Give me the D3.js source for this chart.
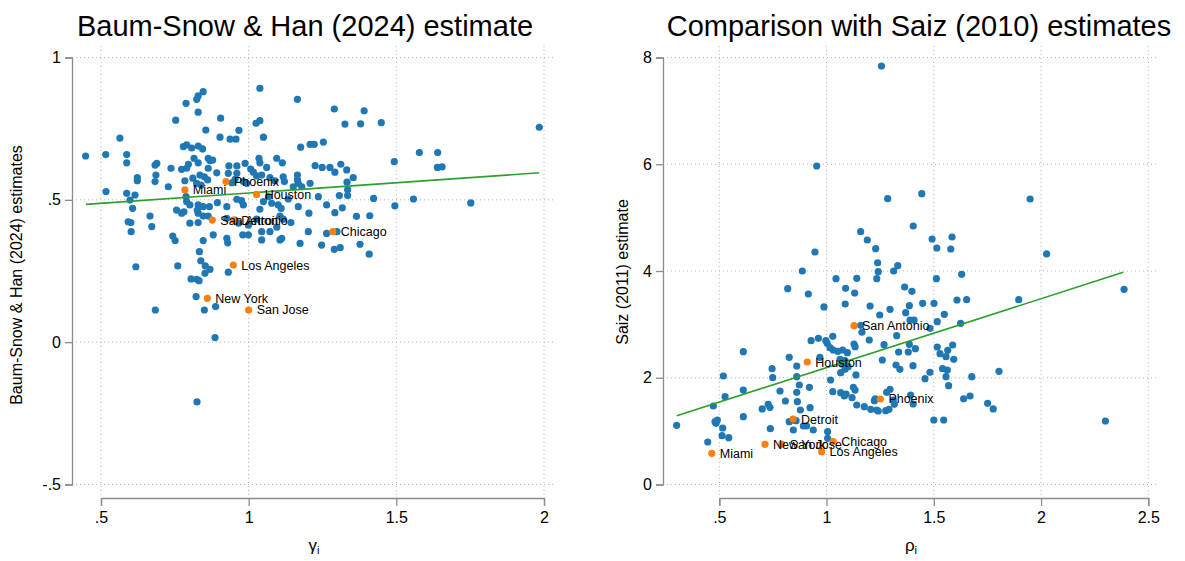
<!DOCTYPE html>
<html>
<head>
<meta charset="utf-8">
<script src="https://cdn.jsdelivr.net/npm/d3@7"></script>
<style>
  html, body { margin: 0; padding: 0; background: #fff; }
  svg { display: block; font-family: "Liberation Sans", Arial, Helvetica, sans-serif; }
</style>
</head>
<body>
<svg id="chart" width="1185" height="561"></svg>
<script>
// ---- Panel 1: gamma_i vs Baum-Snow & Han (2024) estimates ----
const bshOther = [
  [1.038,0.892],[0.846,0.880],[0.829,0.865],[0.824,0.853],[0.788,0.839],[1.165,0.853],[1.290,0.819],[0.829,0.808],
  [0.753,0.780],[0.905,0.787],[1.038,0.778],[1.025,0.769],[1.326,0.766],[0.855,0.745],[0.967,0.744],[0.564,0.717],
  [0.903,0.720],[0.937,0.713],[0.957,0.713],[1.050,0.720],[1.253,0.703],[1.208,0.695],[1.222,0.695],[1.176,0.685],
  [0.779,0.687],[0.790,0.693],[0.807,0.682],[0.829,0.689],[0.844,0.679],[0.448,0.654],[0.516,0.659],[0.587,0.659],
  [0.587,0.630],[0.689,0.628],[0.683,0.622],[0.815,0.646],[0.863,0.646],[0.869,0.638],[0.878,0.640],[0.796,0.625],
  [0.790,0.611],[0.773,0.607],[0.737,0.611],[0.829,0.630],[0.863,0.611],[0.933,0.619],[0.960,0.619],[0.988,0.628],
  [1.035,0.646],[1.038,0.630],[1.095,0.646],[1.114,0.630],[1.061,0.614],[1.007,0.608],[1.016,0.597],[0.931,0.593],
  [0.960,0.593],[0.892,0.595],[0.835,0.587],[0.850,0.581],[0.861,0.570],[0.811,0.576],[0.784,0.567],[0.686,0.587],
  [0.683,0.564],[0.623,0.578],[0.623,0.567],[0.728,0.546],[0.824,0.558],[0.839,0.552],[0.954,0.572],[0.943,0.560],
  [0.982,0.564],[0.993,0.558],[1.027,0.584],[1.044,0.587],[1.072,0.578],[1.089,0.567],[1.117,0.581],[1.121,0.564],
  [1.165,0.587],[1.165,0.570],[1.168,0.558],[1.225,0.620],[1.249,0.614],[1.275,0.614],[1.292,0.597],[1.332,0.605],
  [1.208,0.558],[1.151,0.546],[1.180,0.546],[0.517,0.529],[0.587,0.523],[0.615,0.517],[0.598,0.499],[0.607,0.470],
  [0.788,0.511],[0.790,0.494],[0.829,0.482],[0.846,0.476],[0.867,0.476],[0.826,0.464],[0.829,0.453],[0.801,0.482],
  [0.756,0.464],[0.773,0.453],[0.781,0.458],[0.894,0.490],[0.926,0.476],[0.960,0.502],[0.976,0.497],[0.982,0.482],
  [1.038,0.467],[1.050,0.494],[1.067,0.511],[1.078,0.488],[1.100,0.482],[1.134,0.503],[1.110,0.470],[1.168,0.476],
  [1.204,0.453],[1.236,0.511],[1.264,0.482],[1.292,0.455],[1.307,0.515],[1.335,0.535],[1.335,0.515],[0.666,0.443],
  [0.592,0.423],[0.601,0.420],[0.672,0.406],[0.602,0.388],[0.846,0.443],[0.863,0.443],[0.801,0.418],[0.829,0.420],
  [0.926,0.435],[0.954,0.429],[0.966,0.418],[0.999,0.411],[1.027,0.432],[1.106,0.443],[1.117,0.432],[1.143,0.420],
  [1.044,0.388],[1.072,0.388],[1.095,0.404],[0.999,0.377],[0.980,0.377],[0.880,0.377],[0.926,0.365],[0.929,0.349],
  [0.846,0.357],[0.743,0.373],[0.751,0.357],[0.833,0.318],[1.044,0.359],[1.112,0.365],[1.106,0.359],[1.202,0.388],
  [1.174,0.347],[1.247,0.341],[1.264,0.382],[1.299,0.388],[1.290,0.326],[0.618,0.265],[0.760,0.268],[0.838,0.286],
  [0.853,0.268],[0.869,0.256],[0.852,0.242],[0.931,0.246],[0.805,0.222],[0.824,0.221],[0.832,0.216],[0.822,0.160],
  [0.888,0.125],[0.684,0.113],[0.850,0.113],[0.886,0.016],[0.825,-0.210],[1.391,0.813],[1.379,0.767],[1.449,0.771],
  [1.984,0.755],[1.578,0.666],[1.640,0.666],[1.493,0.634],[1.639,0.614],[1.655,0.616],[1.312,0.625],[1.354,0.578],
  [1.333,0.562],[1.423,0.505],[1.558,0.503],[1.495,0.479],[1.752,0.489],[1.317,0.472],[1.365,0.442],[1.410,0.444],
  [1.310,0.332],[1.377,0.344],[1.408,0.309]
];
const bshCityNames = ["Phoenix","Miami","Houston","San Antonio","Detroit","Chicago","Los Angeles","New York","San Jose"];
const bshCityGamma = [0.923, 0.784, 1.027, 0.877, 0.948, 1.285, 0.948, 0.860, 1.000];
const bshCityEst   = [0.564, 0.535, 0.519, 0.429, 0.429, 0.388, 0.271, 0.154, 0.113];
const bshFit = [[0.449,0.484],[1.984,0.595]];
const bshXTicks = [0.5, 1, 1.5, 2];
const bshXTickLabels = [".5", "1", "1.5", "2"];
const bshYTicks = [-0.5, 0, 0.5, 1];
const bshYTickLabels = ["-.5", "0", ".5", "1"];

// ---- Panel 2: rho_i vs Saiz estimates ----
const saizOther = [
  [0.954,5.967],[0.946,4.356],[0.887,4.000],[1.159,4.736],[1.190,4.581],[1.229,4.418],[1.256,7.841],[1.044,3.856],
  [1.141,3.863],[1.238,4.155],[1.285,5.355],[1.444,5.448],[1.949,5.349],[1.404,4.843],[1.492,4.600],[1.514,4.431],
  [1.585,4.637],[1.579,4.412],[2.026,4.319],[1.241,3.987],[1.313,4.000],[1.332,4.099],[1.512,3.856],[1.630,3.938],
  [1.234,3.856],[0.819,3.668],[0.915,3.569],[0.988,3.326],[1.089,3.676],[1.131,3.588],[1.087,3.382],[1.203,3.344],
  [1.165,2.852],[1.159,2.983],[1.199,2.707],[0.928,2.694],[0.962,2.739],[0.997,2.694],[1.003,2.645],[1.016,2.563],
  [1.029,2.777],[1.031,2.520],[1.053,2.496],[1.075,2.520],[1.097,2.469],[1.128,2.632],[1.133,2.582],[0.826,2.383],
  [0.612,2.488],[0.969,2.383],[0.861,2.220],[0.746,2.170],[0.749,2.001],[0.861,2.020],[0.873,1.864],[0.920,1.821],
  [1.019,1.958],[1.029,1.739],[1.066,2.095],[1.086,2.319],[1.101,2.207],[1.063,2.346],[1.071,2.258],[1.086,2.158],
  [1.137,2.052],[1.066,1.720],[1.083,1.658],[1.091,1.696],[1.119,1.626],[1.125,1.821],[1.133,1.770],[1.141,1.489],
  [1.176,1.458],[1.206,1.409],[1.234,1.396],[1.223,1.570],[1.227,1.607],[0.519,2.033],[0.527,1.645],[0.612,1.770],
  [0.612,1.270],[0.472,1.471],[0.480,1.177],[0.485,1.147],[0.491,1.208],[0.516,1.059],[0.513,0.914],[0.544,0.877],
  [0.446,0.796],[0.301,1.109],[0.728,1.503],[0.736,1.446],[0.700,1.415],[0.738,1.045],[0.783,1.752],[0.808,1.564],
  [0.861,1.727],[0.864,1.551],[0.878,1.396],[0.923,1.439],[0.826,1.177],[0.845,1.208],[0.858,1.195],[0.892,1.096],
  [0.907,1.096],[0.845,1.021],[0.938,1.021],[1.005,0.989],[1.005,0.866],[1.364,3.700],[1.398,3.620],[1.296,3.282],
  [1.386,3.350],[1.448,3.395],[1.501,3.395],[1.608,3.457],[1.653,3.462],[1.896,3.462],[2.387,3.657],[1.248,3.176],
  [1.369,3.219],[1.389,3.082],[1.408,3.082],[1.549,3.189],[1.516,3.050],[1.482,2.926],[1.625,3.020],[1.327,2.788],
  [1.268,2.619],[1.386,2.627],[1.414,2.544],[1.336,2.482],[1.381,2.482],[1.516,2.576],[1.588,2.614],[1.565,2.514],
  [1.529,2.451],[1.557,2.394],[1.593,2.346],[1.260,2.333],[1.324,2.239],[1.342,2.158],[1.403,2.226],[1.541,2.170],
  [1.563,2.145],[1.482,2.102],[1.459,1.982],[1.557,2.020],[1.569,1.851],[1.677,2.020],[1.804,2.121],[1.280,1.727],
  [1.296,1.784],[1.311,1.583],[1.316,1.503],[1.392,1.677],[1.404,1.508],[1.241,1.377],[1.276,1.383],[1.291,1.409],
  [1.639,1.607],[1.669,1.658],[1.751,1.521],[1.777,1.415],[1.500,1.208],[1.546,1.208],[2.300,1.190]
];
const saizCityNames = ["San Antonio","Houston","Phoenix","Detroit","New York","San Jose","Chicago","Los Angeles","Miami"];
const saizCityRho   = [1.128, 0.910, 1.251, 0.844, 0.713, 0.791, 1.031, 0.977, 0.465];
const saizCityEst   = [2.975, 2.295, 1.602, 1.227, 0.753, 0.753, 0.802, 0.615, 0.585];
const saizFit = [[0.302,1.289],[2.383,3.976]];
const saizXTicks = [0.5, 1, 1.5, 2, 2.5];
const saizXTickLabels = [".5", "1", "1.5", "2", "2.5"];
const saizYTicks = [0, 2, 4, 6, 8];
const saizYTickLabels = ["0", "2", "4", "6", "8"];

const BLUE = "#1f77b4", ORANGE = "#ff7f0e", GREEN = "#2ca02c";
const AXIS = "#8c8c8c", GRID = "#b4b4b4";

const svg = d3.select("#chart");
svg.append("rect").attr("width", 1185).attr("height", 561).attr("fill", "#fff");

function panel(cfg) {
  const g = svg.append("g");
  const x = d3.scaleLinear().domain(cfg.xDom).range(cfg.xRange);
  const y = d3.scaleLinear().domain(cfg.yDom).range(cfg.yRange);
  const [L, R, T, B] = cfg.region;

  // dotted grid
  g.append("g").selectAll("line").data(cfg.yTicks).join("line")
    .attr("x1", L).attr("x2", R).attr("y1", d => y(d)).attr("y2", d => y(d))
    .attr("stroke", GRID).attr("stroke-width", 1).attr("stroke-dasharray", "1,3");
  g.append("g").selectAll("line").data(cfg.xTicks).join("line")
    .attr("x1", d => x(d)).attr("x2", d => x(d)).attr("y1", T).attr("y2", B)
    .attr("stroke", GRID).attr("stroke-width", 1).attr("stroke-dasharray", "1,3");

  // axes
  const yAxis = d3.axisLeft(y).tickValues(cfg.yTicks)
    .tickFormat((d, i) => cfg.yLabels[i]).tickSize(7).tickPadding(4);
  const gy = g.append("g").attr("transform", `translate(${L},0)`).call(yAxis);
  const xAxis = d3.axisBottom(x).tickValues(cfg.xTicks)
    .tickFormat((d, i) => cfg.xLabels[i]).tickSize(8).tickPadding(6);
  const gx = g.append("g").attr("transform", `translate(0,${B})`).call(xAxis);
  [gx, gy].forEach(a => {
    a.selectAll("path, line").attr("stroke", AXIS).attr("stroke-width", 1.3);
    a.selectAll("text").attr("fill", "#000").attr("font-size", 16)
      .attr("font-family", "'Liberation Sans', Arial, Helvetica, sans-serif");
  });

  // other metros
  g.append("g").selectAll("circle").data(cfg.points).join("circle")
    .attr("cx", d => x(d[0])).attr("cy", d => y(d[1])).attr("r", 3.6).attr("fill", BLUE);

  // linear fit
  g.append("path").datum(cfg.fit)
    .attr("d", d3.line().x(d => x(d[0])).y(d => y(d[1])))
    .attr("fill", "none").attr("stroke", GREEN).attr("stroke-width", 1.6);

  // labelled metros
  const cities = cfg.names.map((n, i) => ({ n, vx: cfg.cx[i], vy: cfg.cy[i] }));
  g.append("g").selectAll("circle").data(cities).join("circle")
    .attr("cx", d => x(d.vx)).attr("cy", d => y(d.vy)).attr("r", 3.6).attr("fill", ORANGE);
  g.append("g").selectAll("text").data(cities).join("text")
    .attr("x", d => x(d.vx) + 8).attr("y", d => y(d.vy)).attr("dy", "0.36em")
    .attr("font-size", 12.5).attr("fill", "#000").text(d => d.n);

  // titles
  const cx = (L + R) / 2;
  g.append("text").attr("x", cfg.titleX).attr("y", 36).attr("text-anchor", "middle")
    .attr("font-size", 29).attr("fill", "#000").text(cfg.title);
  const xt = g.append("text").attr("x", cx).attr("y", 551).attr("text-anchor", "middle")
    .attr("font-size", 17).attr("fill", "#000");
  xt.append("tspan").text(cfg.xSym);
  xt.append("tspan").attr("font-size", 11).attr("dy", 3).text("i");
  g.append("text")
    .attr("transform", `translate(${cfg.yTitleX},${cfg.yTitleY}) rotate(-90)`)
    .attr("text-anchor", "middle").attr("font-size", 16).attr("fill", "#000")
    .text(cfg.yTitle);
}

panel({
  title: "Baum-Snow & Han (2024) estimate", titleX: 305,
  yTitle: "Baum-Snow & Han (2024) estimates", yTitleX: 22, yTitleY: 275,
  xSym: "\u03B3",
  region: [72, 556, 46, 498],
  xDom: [0.5, 2], xRange: [101, 544],
  yDom: [-0.5, 1], yRange: [484.5, 57.5],
  xTicks: bshXTicks, xLabels: bshXTickLabels,
  yTicks: bshYTicks, yLabels: bshYTickLabels,
  points: bshOther, fit: bshFit,
  names: bshCityNames, cx: bshCityGamma, cy: bshCityEst
});

panel({
  title: "Comparison with Saiz (2010) estimates", titleX: 919,
  yTitle: "Saiz (2011) estimate", yTitleX: 628, yTitleY: 272,
  xSym: "\u03C1",
  region: [663, 1159, 46, 498],
  xDom: [0.5, 2.5], xRange: [719.3, 1148.3],
  yDom: [0, 8], yRange: [484.5, 57.5],
  xTicks: saizXTicks, xLabels: saizXTickLabels,
  yTicks: saizYTicks, yLabels: saizYTickLabels,
  points: saizOther, fit: saizFit,
  names: saizCityNames, cx: saizCityRho, cy: saizCityEst
});
</script>
</body>
</html>
